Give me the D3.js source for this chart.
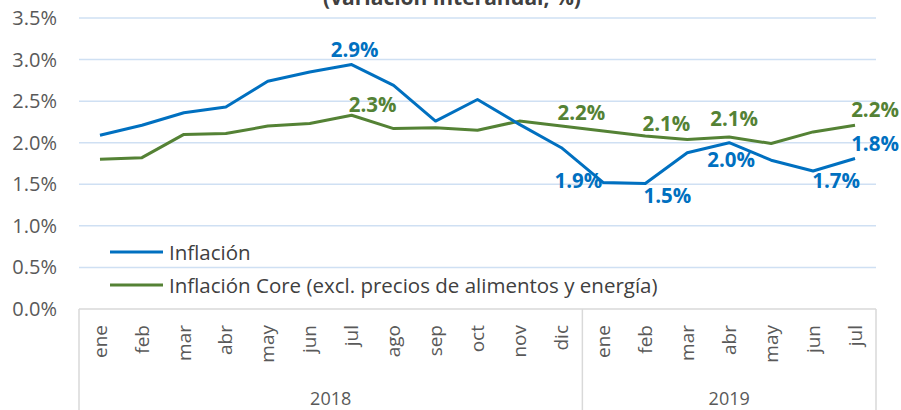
<!DOCTYPE html>
<html lang="es">
<head>
<meta charset="utf-8">
<title>Inflación</title>
<script src="https://d3js.org/d3.v7.min.js"></script>
<style>
  body { margin: 0; padding: 0; background: #fff; overflow: hidden; }
  text { font-family: "Open Sans", "Noto Sans", sans-serif; }
</style>
</head>
<body>
<svg id="chart"></svg>
<script>
  // data (% interannual)
  const months = ["ene","feb","mar","abr","may","jun","jul","ago","sep","oct","nov","dic",
                  "ene","feb","mar","abr","may","jun","jul"];
  const yearLabels = ["2018", "2019"];
  const yearCounts = [12, 7];
  const inflacion = [2.09,2.21,2.36,2.43,2.74,2.85,2.94,2.69,2.26,2.52,2.22,1.94,
                     1.52,1.51,1.88,2.00,1.79,1.66,1.81];
  const core = [1.80,1.82,2.10,2.11,2.20,2.23,2.33,2.17,2.18,2.15,2.26,2.20,
                2.14,2.08,2.04,2.07,1.99,2.13,2.21];
  const yTicks = [0, 0.5, 1, 1.5, 2, 2.5, 3, 3.5];

  // which points carry a value label, and where the label sits
  const inflLabels = [[6, 3, -8], [11, 17, 40], [13, 22, 20], [15, 2, 24], [17, 23, 17], [18, 20, -8]];
  const coreLabels = [[6, 21, -3], [11, 20, -6], [13, 21, -5], [15, 5, -11], [18, 20, -8]];

  const width = 901, height = 410;
  const mLeft = 79, mRight = 876, mTop = 18, mBottom = 309;
  const blue = "#0070C0", green = "#548235";

  const svg = d3.select("#chart").attr("width", width).attr("height", height);

  const x = d3.scaleBand().domain(d3.range(months.length)).range([mLeft, mRight]);
  const y = d3.scaleLinear().domain([0, 3.5]).range([mBottom, mTop]);
  const cx = i => x(i) + x.bandwidth() / 2;

  // title (cut off at the top in the original)
  svg.append("text")
    .attr("x", 452).attr("y", 5)
    .attr("text-anchor", "middle")
    .attr("font-size", 21).attr("font-weight", "bold").attr("fill", "#404040")
    .text("(variación interanual, %)");

  // gridlines
  svg.append("g")
    .selectAll("line")
    .data(yTicks.filter(d => d > 0))
    .join("line")
    .attr("x1", mLeft).attr("x2", mRight)
    .attr("y1", d => y(d)).attr("y2", d => y(d))
    .attr("stroke", "#CFE0F3").attr("stroke-width", 1.5);

  // y axis labels
  svg.append("g")
    .selectAll("text")
    .data(yTicks)
    .join("text")
    .attr("x", 57).attr("y", d => y(d))
    .attr("dy", "0.35em")
    .attr("text-anchor", "end")
    .attr("font-size", 20).attr("fill", "#595959")
    .text(d => d.toFixed(1) + "%");

  // category axis box
  const axisG = svg.append("g").attr("stroke", "#D9D9D9").attr("stroke-width", 1.5);
  axisG.append("line").attr("x1", mLeft).attr("x2", mRight).attr("y1", mBottom).attr("y2", mBottom);
  let acc = 0;
  const seps = [0];
  yearCounts.forEach(c => { acc += c; seps.push(acc); });
  axisG.selectAll(".sep")
    .data(seps)
    .join("line")
    .attr("x1", d => x.step() * d + mLeft).attr("x2", d => x.step() * d + mLeft)
    .attr("y1", mBottom).attr("y2", height);

  // month labels
  svg.append("g")
    .selectAll("text")
    .data(months)
    .join("text")
    .attr("transform", (d, i) => `translate(${cx(i)},325) rotate(-90)`)
    .attr("dy", "0.35em")
    .attr("text-anchor", "end")
    .attr("font-size", 19).attr("fill", "#595959")
    .text(d => d);

  // year labels
  svg.append("g")
    .selectAll("text")
    .data(yearLabels)
    .join("text")
    .attr("x", (d, i) => mLeft + x.step() * (seps[i] + seps[i + 1]) / 2)
    .attr("y", 405)
    .attr("text-anchor", "middle")
    .attr("font-size", 18).attr("fill", "#595959")
    .text(d => d);

  // lines
  const line = d3.line().x((d, i) => cx(i)).y(d => y(d));

  svg.append("path").datum(core)
    .attr("fill", "none").attr("stroke", green).attr("stroke-width", 3)
    .attr("stroke-linejoin", "round").attr("d", line);

  svg.append("path").datum(inflacion)
    .attr("fill", "none").attr("stroke", blue).attr("stroke-width", 3)
    .attr("stroke-linejoin", "round").attr("d", line);

  // data labels
  function addLabels(values, specs, color) {
    svg.append("g")
      .selectAll("text")
      .data(specs)
      .join("text")
      .attr("x", d => cx(d[0]) + d[1])
      .attr("y", d => y(values[d[0]]) + d[2])
      .attr("text-anchor", "middle")
      .attr("font-size", 20.5).attr("font-weight", "bold").attr("fill", color)
      .text(d => values[d[0]].toFixed(1) + "%");
  }
  addLabels(core, coreLabels, green);
  addLabels(inflacion, inflLabels, blue);

  // legend
  const legend = svg.append("g");
  const items = [["Inflación", blue], ["Inflación Core (excl. precios de alimentos y energía)", green]];
  items.forEach((it, i) => {
    const ly = 252 + i * 33;
    legend.append("line")
      .attr("x1", 110).attr("x2", 163).attr("y1", ly).attr("y2", ly)
      .attr("stroke", it[1]).attr("stroke-width", 3);
    legend.append("text")
      .attr("x", 169).attr("y", ly + 8)
      .attr("font-size", 20.5).attr("fill", "#404040")
      .text(it[0]);
  });
</script>
</body>
</html>
